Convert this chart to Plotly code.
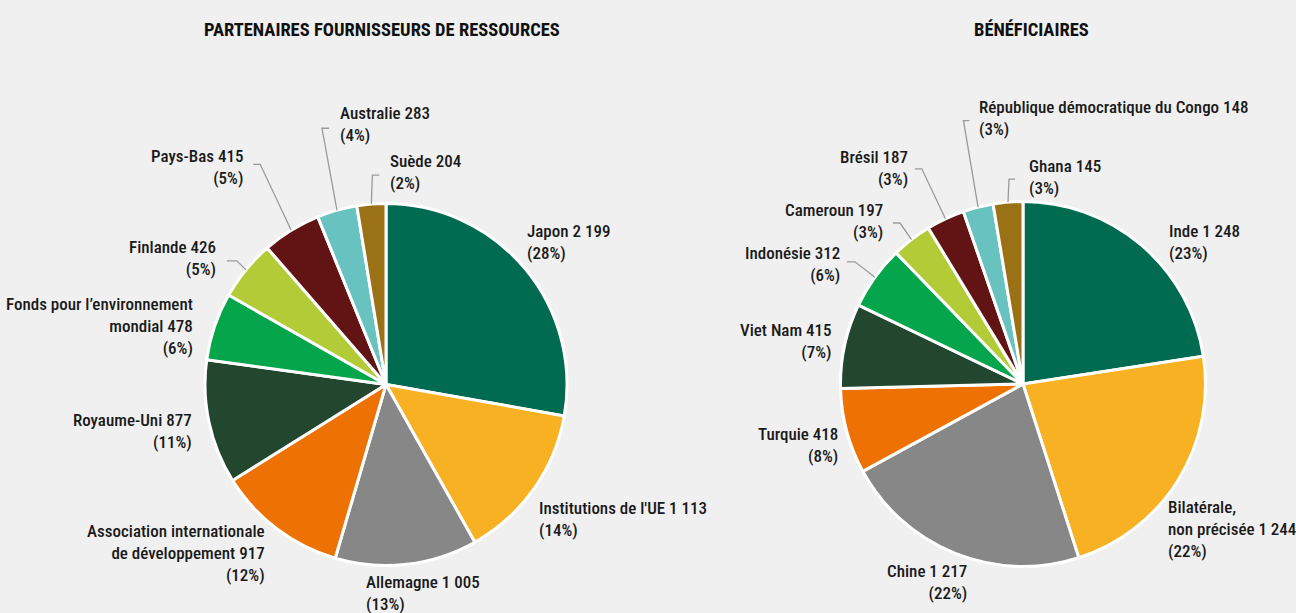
import math
import plotly.graph_objects as go

W, H = 1296, 613

# ---------------- data ----------------
left_title = "PARTENAIRES FOURNISSEURS DE RESSOURCES"
left_names = ["Japon", "Institutions de l'UE", "Allemagne",
              "Association internationale<br>de développement", "Royaume-Uni",
              "Fonds pour l’environnement<br>mondial", "Finlande", "Pays-Bas",
              "Australie", "Suède"]
left_values = [2199, 1113, 1005, 917, 877, 478, 426, 415, 283, 204]
left_pcts = [28, 14, 13, 12, 11, 6, 5, 5, 4, 2]

right_title = "BÉNÉFICIAIRES"
right_names = ["Inde", "Bilatérale,<br>non précisée", "Chine", "Turquie", "Viet Nam",
               "Indonésie", "Cameroun", "Brésil",
               "République démocratique du Congo", "Ghana"]
right_values = [1248, 1244, 1217, 418, 415, 312, 197, 187, 148, 145]
right_pcts = [23, 22, 22, 8, 7, 6, 3, 3, 3, 3]

# ---------------- style ----------------
colors = ["#006B50", "#F8B122", "#878787", "#EE7203", "#23462F",
          "#04A54B", "#B2CB37", "#621415", "#68C2BF", "#9B7116"]
BG = "#F0F0F0"
FONT = "Roboto Condensed, Open Sans, sans-serif"
TXT = "#1A1A1A"
LEADER = "#9A9A9A"
LABEL_SIZE = 17
TITLE_SIZE = 18.5

# pie geometry in pixels (center x, center y, radius)
left_geom = (386, 384.5, 181)
right_geom = (1023, 384, 182.5)

# label placement relative to slice edge point: (dx, dy, xanchor, leader)
# leader = (elbow_dx, elbow_dy, tick_dx) or None
left_label_style = [
    (0, -26, "left", None),
    (3, 30, "left", None),
    (-43, 29, "left", None),
    (-10, 24, "right", None),
    (-15, 9, "right", None),
    (-20, 0, "right", None),
    (-28, -12, "right", (-9, -9, -10)),
    (-46, -63, "right", (-31, -66, -7)),
    (1, -86, "left", (-15, -82, 7)),
    (17, -32, "left", (1, -29, 7)),
]
right_label_style = [
    (25, -3, "left", None),
    (-12, 49, "left", None),
    (14, 29, "right", None),
    (-7, 14, "right", None),
    (-11, -5, "right", None),
    (-33, -13, "right", (-20, -15.5, -8)),
    (-26.5, -18.5, "right", (-11.5, -16.5, -7)),
    (-35, -51, "right", (-23.6, -50, -7)),
    (-1, -89, "left", (-14.6, -86.5, 6)),
    (19, -25, "left", (1, -23, 6)),
]


def fmt(v):
    return f"{v:,}".replace(",", " ")


def px(x, y):
    return x / W, 1 - y / H


fig = go.Figure()
annotations = []
shapes = []


def add_pie(names, values, pcts, geom, styles, title, title_x):
    cx, cy, r = geom
    fig.add_trace(go.Pie(
        values=values,
        labels=[n.replace("<br>", " ") for n in names],
        sort=False,
        direction="clockwise",
        rotation=0,
        textinfo="none",
        hoverinfo="label+value",
        marker=dict(colors=colors, line=dict(color="white", width=3)),
        domain=dict(x=[(cx - r) / W, (cx + r) / W],
                    y=[1 - (cy + r) / H, 1 - (cy - r) / H]),
        showlegend=False,
    ))
    total = sum(values)
    cum = 0
    for name, v, p, st in zip(names, values, pcts, styles):
        mid = (cum + v / 2) / total * 2 * math.pi
        cum += v
        ex = cx + r * math.sin(mid)
        ey = cy - r * math.cos(mid)
        dx, dy, xa, leader = st
        tx, ty = px(ex + dx, ey + dy)
        annotations.append(dict(
            x=tx, y=ty, xref="paper", yref="paper",
            text=f"{name} {fmt(v)}<br>({p}%)",
            xanchor=xa, yanchor="middle", align=xa, showarrow=False,
            font=dict(family=FONT, size=LABEL_SIZE, color=TXT, weight=500),
        ))
        if leader is not None:
            edx, edy, tdx = leader
            x0, y0 = px(ex, ey)
            x1, y1 = px(ex + edx, ey + edy)
            x2, y2 = px(ex + edx + tdx, ey + edy)
            shapes.append(dict(
                type="path", xref="paper", yref="paper",
                path=f"M {x0} {y0} L {x1} {y1} L {x2} {y2}",
                line=dict(color=LEADER, width=1.3),
            ))
    tx, ty = px(title_x, 30)
    annotations.append(dict(
        x=tx, y=ty, xref="paper", yref="paper", text=title,
        xanchor="center", yanchor="middle", showarrow=False,
        font=dict(family=FONT, size=TITLE_SIZE, color="#111111", weight=700),
    ))


add_pie(left_names, left_values, left_pcts, left_geom, left_label_style, left_title, 381.5)
add_pie(right_names, right_values, right_pcts, right_geom, right_label_style, right_title, 1031)

fig.update_layout(
    width=W, height=H,
    margin=dict(l=0, r=0, t=0, b=0),
    paper_bgcolor=BG, plot_bgcolor=BG,
    annotations=annotations,
    shapes=shapes,
    showlegend=False,
)

fig.write_html("out.html", config={"displayModeBar": False},
               post_script="document.body.style.margin='0';")
